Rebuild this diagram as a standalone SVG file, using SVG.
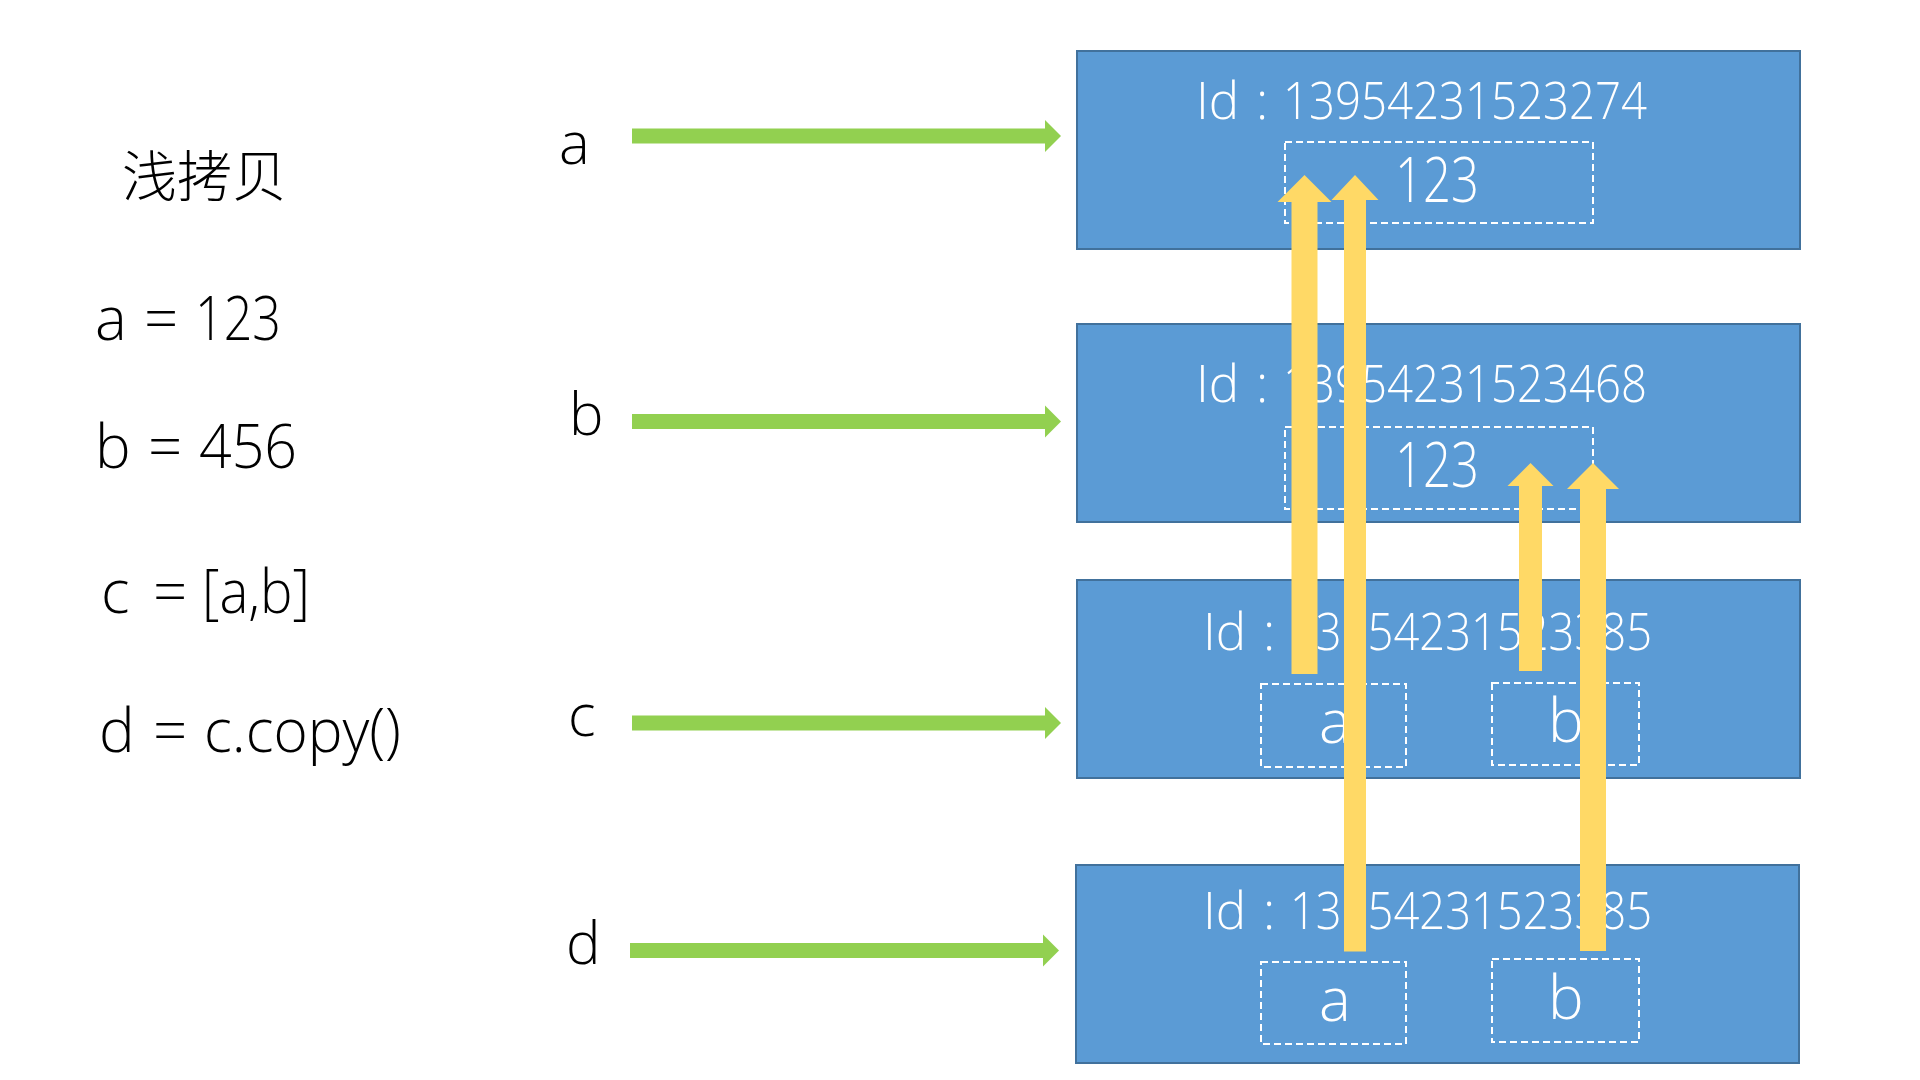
<svg xmlns="http://www.w3.org/2000/svg" width="1920" height="1080" viewBox="0 0 1920 1080">
<style>
.bg{fill:#ffffff}
.box{fill:#5B9BD5;stroke:#41719C;stroke-width:2}
.dash{fill:none;stroke:#ffffff;stroke-width:2;stroke-dasharray:7 4}
.t{font-family:"Open Sans","Noto Sans",sans-serif;font-weight:300}
.dark{fill:#000000}
.wt{fill:#ffffff}
.code{font-size:60px}
.id{font-size:51px}
.cjk{font-family:"Noto Sans CJK SC","Noto Sans",sans-serif;font-weight:300;fill:#000000}
.green{fill:#92D050}
.yellow{fill:#FFD966}
</style>
<rect class="bg" x="0" y="0" width="1920" height="1080"/>
<g id="code">
<text class="cjk" x="122" y="196" font-size="55">浅拷贝</text>
<text class="t dark code" x="95" y="340">a</text>
<text class="t dark code" x="144" y="340">=</text>
<text class="t dark code" x="195" y="340" textLength="86" lengthAdjust="spacingAndGlyphs">123</text>
<text class="t dark code" x="95" y="468">b</text>
<text class="t dark code" x="148" y="468">=</text>
<text class="t dark code" x="199" y="468" textLength="98" lengthAdjust="spacingAndGlyphs">456</text>
<text class="t dark code" x="101" y="613">c</text>
<text class="t dark code" x="153" y="613">=</text>
<text class="t dark code" x="202" y="613" textLength="108" lengthAdjust="spacingAndGlyphs">[a,b]</text>
<text class="t dark code" x="99" y="752">d</text>
<text class="t dark code" x="153" y="752">=</text>
<text class="t dark code" x="204" y="752" textLength="197" lengthAdjust="spacingAndGlyphs">c.copy()</text>
</g>
<g id="var-a"><text class="t dark" x="559" y="164" font-size="58">a</text></g>
<g id="var-b"><text class="t dark" x="569" y="435" font-size="58">b</text></g>
<g id="var-c"><text class="t dark" x="568" y="736" font-size="58">c</text></g>
<g id="var-d"><text class="t dark" x="566" y="964" font-size="58">d</text></g>
<g id="obj-a">
<rect class="box" x="1077" y="51" width="723" height="198"/>
<text class="t wt id" x="1196" y="119">Id</text>
<text class="t wt id" x="1256" y="119">:</text>
<text class="t wt id" x="1283" y="119" textLength="364" lengthAdjust="spacingAndGlyphs">13954231523274</text>
<rect class="dash" x="1285" y="142" width="308" height="81"/>
<text class="t wt" x="1395" y="202" font-size="62" textLength="84" lengthAdjust="spacingAndGlyphs">123</text>
</g>
<g id="obj-b">
<rect class="box" x="1077" y="324" width="723" height="198"/>
<text class="t wt id" x="1196" y="402">Id</text>
<text class="t wt id" x="1256" y="402">:</text>
<text class="t wt id" x="1283" y="402" textLength="364" lengthAdjust="spacingAndGlyphs">13954231523468</text>
<rect class="dash" x="1285" y="427" width="308" height="82"/>
<text class="t wt" x="1395" y="487" font-size="62" textLength="84" lengthAdjust="spacingAndGlyphs">123</text>
</g>
<g id="obj-c">
<rect class="box" x="1077" y="580" width="723" height="198"/>
<text class="t wt id" x="1203" y="650">Id</text>
<text class="t wt id" x="1263" y="650">:</text>
<text class="t wt id" x="1290" y="650" textLength="362" lengthAdjust="spacingAndGlyphs">13954231523385</text>
<rect class="dash" x="1261" y="684" width="145" height="83"/>
<text class="t wt" x="1319" y="743" font-size="60">a</text>
<rect class="dash" x="1492" y="683" width="147" height="82"/>
<text class="t wt" x="1548" y="742" font-size="60" font-weight="400">b</text>
</g>
<g id="obj-d">
<rect class="box" x="1076" y="865" width="723" height="198"/>
<text class="t wt id" x="1203" y="929">Id</text>
<text class="t wt id" x="1263" y="929">:</text>
<text class="t wt id" x="1290" y="929" textLength="362" lengthAdjust="spacingAndGlyphs">13954231523385</text>
<rect class="dash" x="1261" y="962" width="145" height="82"/>
<text class="t wt" x="1319" y="1021" font-size="60">a</text>
<rect class="dash" x="1492" y="959" width="147" height="83"/>
<text class="t wt" x="1548" y="1019" font-size="60" font-weight="400">b</text>
</g>
<g id="connectors">
<polygon class="green" points="632,128.5 1045,128.5 1045,120 1061,136 1045,152 1045,143.5 632,143.5"/>
<polygon class="green" points="632,414 1045,414 1045,405.5 1061,421.5 1045,437.5 1045,429 632,429"/>
<polygon class="green" points="632,715.5 1045,715.5 1045,707 1061,723 1045,739 1045,730.5 632,730.5"/>
<polygon class="green" points="630,943 1043,943 1043,934.5 1059,950.5 1043,966.5 1043,958 630,958"/>
<polygon class="yellow" points="1291.5,674 1291.5,202 1277.5,202 1304.5,175 1331.5,202 1317.5,202 1317.5,674"/>
<polygon class="yellow" points="1344,951.5 1344,200 1331.5,200 1355,175 1378.5,200 1366,200 1366,951.5"/>
<polygon class="yellow" points="1519,671 1519,486 1507.5,486 1530.5,463 1553.5,486 1542,486 1542,671"/>
<polygon class="yellow" points="1580,951 1580,489 1567,489 1593,463 1619,489 1606,489 1606,951"/>
</g>
</svg>
